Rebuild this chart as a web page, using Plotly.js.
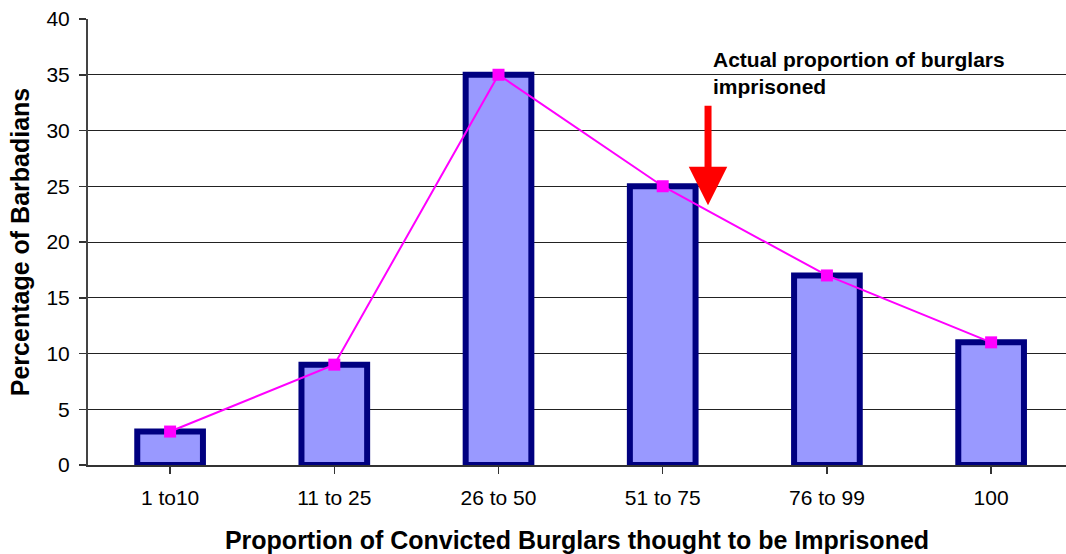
<!DOCTYPE html>
<html><head><meta charset="utf-8">
<script src="https://cdn.plot.ly/plotly-3.0.1.min.js"></script>
<style>html,body{margin:0;padding:0;background:#fff;}#chart{width:1066px;height:554px;}</style>
</head><body><div id="chart"></div>
<script>
const categories = ["1 to10", "11 to 25", "26 to 50", "51 to 75", "76 to 99", "100"];
const percentages = [3, 9, 35, 25, 17, 11];
const yTicks = [0, 5, 10, 15, 20, 25, 30, 35, 40];

const idx = categories.map((c, i) => i);

const bars = {
  type: 'bar', x: idx, y: percentages, width: 0.40,
  marker: {color: '#9999FF', line: {color: '#000080', width: 6}},
  hoverinfo: 'skip', showlegend: false
};
const line = {
  type: 'scatter', mode: 'lines+markers', x: idx, y: percentages,
  line: {color: '#FF00FF', width: 2},
  marker: {symbol: 'square', size: 12, color: '#FF00FF'},
  showlegend: false, cliponaxis: false
};

const layout = {
  width: 1066, height: 554,
  margin: {l: 88, r: 0, t: 19, b: 89},
  paper_bgcolor: '#fff', plot_bgcolor: '#fff',
  font: {family: '"Liberation Sans", Arial, sans-serif', color: '#000'},
  bargap: 0,
  xaxis: {
    range: [-0.5, 5.456], tickmode: 'array', tickvals: idx, ticktext: categories,
    tickson: 'boundaries', ticks: 'outside', ticklen: 7, tickcolor: '#333', tickwidth: 1.5,
    showgrid: false, showline: true, linecolor: '#333', linewidth: 2, zeroline: false,
    tickfont: {size: 21}, ticklabelstandoff: 6,
    title: {text: '<b>Proportion of Convicted Burglars thought to be Imprisoned</b>', font: {size: 25}, standoff: 24}
  },
  yaxis: {
    range: [0, 40], tickmode: 'array', tickvals: yTicks,
    ticks: 'outside', ticklen: 7, tickcolor: '#333', tickwidth: 1.5,
    showgrid: true, gridcolor: '#222', gridwidth: 1,
    showline: true, linecolor: '#444', linewidth: 2, zeroline: false,
    tickfont: {size: 21}, ticklabelstandoff: 5,
    title: {text: '<b>Percentage of Barbadians</b>', font: {size: 25}, standoff: 10}
  },
  annotations: [
    {x: 3.276, y: 23.3, xref: 'x', yref: 'y', ax: 0, ay: -101, axref: 'pixel', ayref: 'pixel',
     showarrow: true, arrowhead: 2, arrowsize: 1.1, arrowwidth: 7, arrowcolor: '#FF0000', text: ''},
    {x: (711 - 88) / 978, y: 1 + (19 - 46) / 446, xref: 'paper', yref: 'paper',
     xanchor: 'left', yanchor: 'top', align: 'left', showarrow: false,
     text: '<b>Actual proportion of burglars<br>imprisoned</b>', font: {size: 21, color: '#000'}}
  ]
};

Plotly.newPlot('chart', [bars, line], layout, {displayModeBar: false, staticPlot: true});
</script></body></html>
